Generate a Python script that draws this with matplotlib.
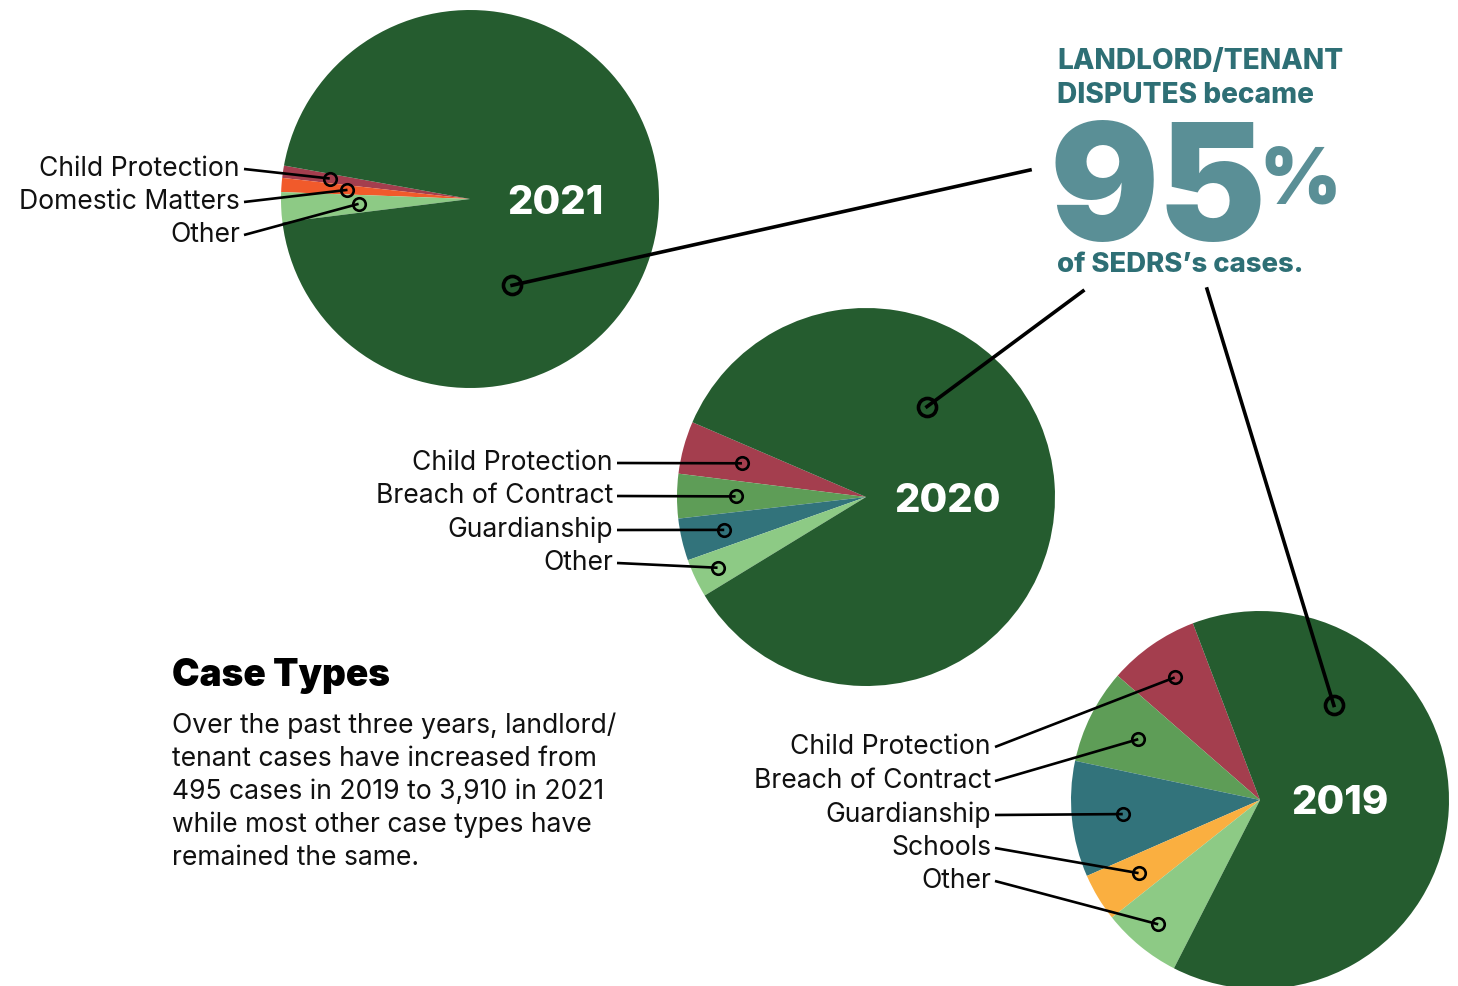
import matplotlib
matplotlib.use("Agg")
import matplotlib.pyplot as plt
import numpy as np

# SEDRS case types by year (share of cases)
labels_2021 = ["Child Protection", "Domestic Matters", "Other", "Landlord/Tenant"]
share_2021 = [1.05, 1.2, 2.55, 95.2]

labels_2020 = ["Child Protection", "Breach of Contract", "Guardianship", "Other", "Landlord/Tenant"]
share_2020 = [4.5, 3.8, 3.6, 3.3, 84.8]

labels_2019 = ["Child Protection", "Breach of Contract", "Guardianship", "Schools", "Other", "Landlord/Tenant"]
share_2019 = [7.8, 8.1, 9.9, 4.1, 6.8, 63.3]

DARK_GREEN = "#255c2f"
RED = "#a43e4e"
ORANGE = "#f15a2b"
MID_GREEN = "#5e9d57"
TEAL = "#32737b"
LIGHT_GREEN = "#8dca85"
YELLOW = "#faaf40"

colors_2021 = [RED, ORANGE, LIGHT_GREEN, DARK_GREEN]
colors_2020 = [RED, MID_GREEN, TEAL, LIGHT_GREEN, DARK_GREEN]
colors_2019 = [RED, MID_GREEN, TEAL, YELLOW, LIGHT_GREEN, DARK_GREEN]

W, H = 1458, 986
FONT = "Inter"

fig = plt.figure(figsize=(W / 100, H / 100), dpi=100)
ax = fig.add_axes([0, 0, 1, 1])


def px(size):
    # pixel em size -> points
    return size * 0.72


def draw_pie(values, colors, labels, center, start, year, label_x, label_ys, dot_r, big_dot):
    cx, cy = center[0], H - center[1]
    wedges, _ = ax.pie(values, colors=colors, startangle=start, counterclock=True,
                       center=(cx, cy), radius=189, frame=True,
                       wedgeprops=dict(linewidth=0))
    ax.text(cx + big_dot[2], cy - 4, year, color="white", fontsize=px(40),
            fontweight="heavy", family=FONT, ha="center", va="center")
    for w, lab, ly, fr in zip(wedges, labels, label_ys, dot_r):
        mid = np.deg2rad((w.theta1 + w.theta2) / 2)
        dx = cx + 189 * fr * np.cos(mid)
        dy = cy + 189 * fr * np.sin(mid)
        ty = H - ly
        ax.text(label_x, ty, lab, fontsize=px(26.5), family=FONT, ha="right",
                va="center", color="#111111")
        ax.plot([label_x + 4, dx], [ty, dy], color="black", lw=1.9,
                solid_capstyle="butt", zorder=5)
        ax.plot(dx, dy, "o", ms=9, mfc="none", mec="black", mew=1.9, zorder=6)
    # big pointer into the landlord slice
    ang, rad = np.deg2rad(big_dot[0]), big_dot[1]
    bx, by = cx + rad * np.cos(ang), cy + rad * np.sin(ang)
    ex, ey = big_dot[3], H - big_dot[4]
    ax.plot([bx, ex], [by, ey], color="black", lw=2.6, zorder=5)
    ax.plot(bx, by, "o", ms=13, mfc="none", mec="black", mew=2.6, zorder=6)


draw_pie(share_2021, colors_2021, labels_2021[:3], (470, 199), 169.8, "2021",
         240, [169, 202, 235], [0.75, 0.65, 0.59], (-64, 96, 85, 1030, 170))
draw_pie(share_2020, colors_2020, labels_2020[:4], (866, 497), 156.7, "2020",
         613, [463, 496, 530, 563], [0.68, 0.69, 0.77, 0.87], (56, 109, 82, 1083, 291))
draw_pie(share_2019, colors_2019, labels_2019[:5], (1260, 800), 110.8, "2019",
         991, [747, 781, 815, 848, 881], [0.79, 0.72, 0.73, 0.75, 0.85], (52, 120, 80, 1207, 289))

ax.set_xlim(0, W)
ax.set_ylim(0, H)
ax.set_aspect("equal")
ax.axis("off")

# headline
HEAD = "#2e6f75"
BIG = "#5a8f96"
ax.text(1057, H - 69, "LANDLORD/TENANT", color=HEAD, fontsize=px(28), fontweight="heavy",
        family=FONT, ha="left", va="baseline")
ax.text(1057, H - 103, "DISPUTES became", color=HEAD, fontsize=px(28), fontweight="heavy",
        family=FONT, ha="left", va="baseline")
ax.text(1050, H - 240, "95", color=BIG, fontsize=px(162), fontweight="black",
        family=FONT, ha="left", va="baseline")
ax.text(1259, H - 203, "%", color=BIG, fontsize=px(78), fontweight="black",
        family=FONT, ha="left", va="baseline")
ax.text(1057, H - 272, "of SEDRS\u2019s cases.", color=HEAD, fontsize=px(27.5), fontweight="heavy",
        family=FONT, ha="left", va="baseline")

# side note
ax.text(172, H - 686, "Case Types", fontsize=px(37), fontweight="black", family=FONT,
        ha="left", va="baseline", color="black")
body = ["Over the past three years, landlord/",
        "tenant cases have increased from",
        "495 cases in 2019 to 3,910 in 2021",
        "while most other case types have",
        "remained the same."]
for i, line in enumerate(body):
    ax.text(172, H - 733 - 33 * i, line, fontsize=px(26.5), family=FONT,
            ha="left", va="baseline", color="#111111")

fig.savefig("out.png", dpi=100)
